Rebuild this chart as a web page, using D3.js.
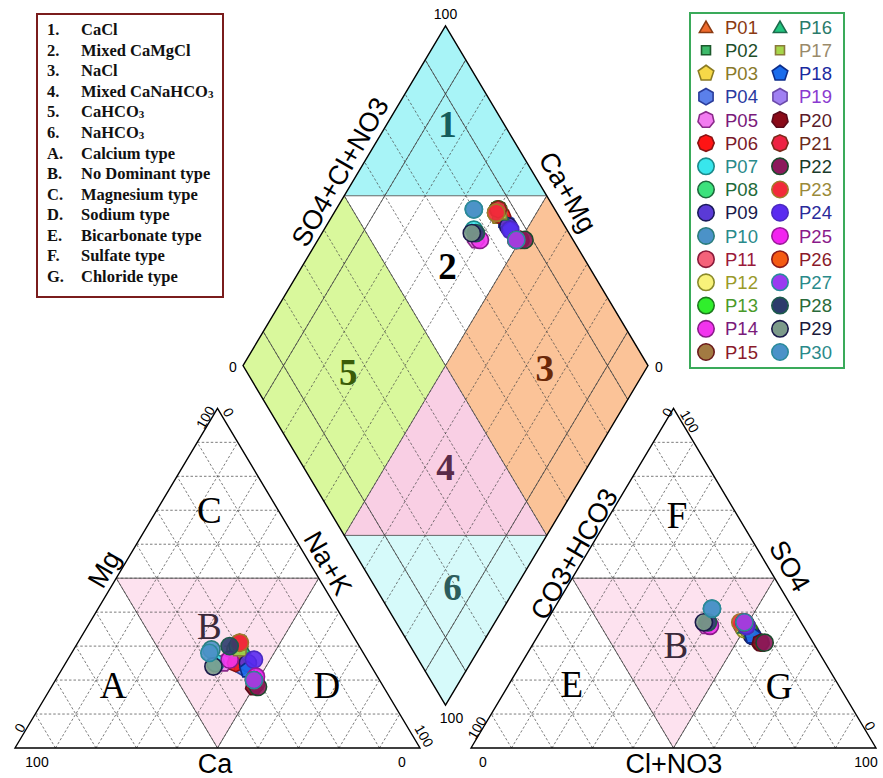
<!DOCTYPE html>
<html>
<head>
<meta charset="utf-8">
<script src="https://cdn.jsdelivr.net/npm/d3@7"></script>
<style>
  body { margin: 0; background: #fff; }
  .grid { fill: none; stroke: #444; stroke-width: 0.7; stroke-dasharray: 2.5,2; }
  .thin { fill: none; stroke: #444; stroke-width: 0.8; }
  .edge { fill: none; stroke: #000; stroke-width: 1.4; }
  .axis-title { font-family: "Liberation Sans", Arial, sans-serif; font-size: 27px; fill: #000; }
  .tick { font-family: "Liberation Sans", Arial, sans-serif; font-size: 14px; fill: #000; }
  .zone { font-family: "Liberation Serif", "Times New Roman", serif; font-weight: bold; font-size: 37px; }
  .type { font-family: "Liberation Serif", "Times New Roman", serif; font-size: 37px; }
</style>
</head>
<body>
<div class="piper"></div>
<script>
var width = 883, height = 778;

// samples
var samples = ["P01","P02","P03","P04","P05","P06","P07","P08","P09","P10",
               "P11","P12","P13","P14","P15","P16","P17","P18","P19","P20",
               "P21","P22","P23","P24","P25","P26","P27","P28","P29","P30"];
// cations (% meq)
var ca  = [30,29,30,32,36,33,38,31,30,37, 30,31,30,34,31,29,30,31,30,32, 29,31,29,28,30,31,31,32,39,38];
var mg  = [30,31,29,24,25,25,25,29,25,29, 30,29,30,26,19,30,29,23,21,18, 31,18,31,26,21,20,20,30,24,28];
var naK = [40,40,41,44,39,42,37,40,45,34, 40,40,40,40,50,41,41,46,49,50, 40,51,40,46,49,49,49,38,37,34];
// anions (% meq)
var hco3 = [14,14,15,14,24,14,23,14,14,20, 15,15,14,23,13,14,14,14,14,13, 14,12,15,14,14,14,14,23,24,20];
var so4  = [37,36,35,34,36,34,37,36,33,41, 36,35,35,36,31,36,35,33,37,31, 36,31,37,36,37,37,37,37,37,41];
var cl   = [49,50,50,52,40,52,40,50,53,39, 49,50,51,41,56,50,51,53,49,56, 50,57,48,50,49,49,49,40,39,39];

// marker styles
var shapes = [3,4,5,6,7,8,0,0,0,0, 0,0,0,0,0, 3,4,5,6,7,8,0,0,0,0, 0,0,0,0,0];
var fills = ["#ee6a2c","#3dba6a","#f6d848","#5b80ea","#f27cf0","#ff1414","#38e6ec","#3ce27c","#5a3ad6","#4b92c8",
             "#f4627a","#f8f27a","#30ee2c","#f234ee","#a27a42","#22c47e","#a6d64a","#1a6cec","#a080f2","#8a0a18",
             "#ee2242","#8c1a5c","#f22a3a","#5a2af0","#f222f0","#f45a12","#9a3af0","#2c3c6c","#7c9a8a","#4a92c8"];
var strokes = ["#8a3a12","#1c5a2c","#8a7a22","#2a3c9a","#8a2a8a","#8a1212","#1a8a8a","#1c6a3c","#1a1a5a","#2a7c7c",
               "#8a1a3a","#8a8a2a","#1c7a1c","#8a1a8a","#6a1a1a","#1c6a4c","#8a7a3c","#0c2c8a","#6a4aaa","#5a0a1a",
               "#7a2a1a","#1c4a2c","#a07a2a","#4a2ac0","#9a1a9a","#8a1a1a","#2a8a9a","#1c5a4a","#1a1a4a","#2a8a9a"];
var labelColors = ["#8b3a12","#1f4e2a","#8a7a2a","#2a3aa0","#7a1a7a","#7a1a2a","#2a8a8a","#1f6a3a","#1a1a4a","#2a8a8a",
                   "#9a1a3a","#9a9a2a","#4a9a2a","#7a1a7a","#8a1a2a","#2a7a6a","#9a8a6a","#1a2aa0","#8a3ad0","#5a1a2a",
                   "#6a2a1a","#1a3a2a","#9a8a3a","#2a2a9a","#8a1a8a","#8a1a2a","#2a8a8a","#2a6a3a","#1a1a3a","#2a8a8a"];

// water type legend
var typeKeys = ["1.","2.","3.","4.","5.","6.","A.","B.","C.","D.","E.","F.","G."];
var typeNames = ["CaCl","Mixed CaMgCl","NaCl","Mixed CaNaHCO|3","CaHCO|3","NaHCO|3","Calcium type",
                 "No Dominant type","Magnesium type","Sodium type","Bicarbonate type","Sulfate type","Chloride type"];

var tickValues = [0, 100];

// geometry in units: triangle side 100, gap between triangles
var gap = 12.6, H = 86.6;

var x = d3.scaleLinear().domain([0, 212.6]).range([15, 876]);
var y = d3.scaleLinear().domain([0, 184.1]).range([748, 26]);

function catXY(c, m, n) { return [x(n + m / 2), y(m * H / 100)]; }
function anXY(h, s, c) { return [x(100 + gap + c + s / 2), y(s * H / 100)]; }
function diaXY(cm, sc) {
  return [x(100 + gap / 2 + 0.5 * (sc - cm)), y(gap * H / 100 + H / 100 * (cm + sc))];
}

var svg = d3.select(".piper").append("svg")
  .attr("width", width)
  .attr("height", height);

var line = d3.line();

function poly(pts, fill) {
  svg.append("path").attr("d", line(pts) + "Z").attr("fill", fill);
}

// ----- fills -----
poly([diaXY(100,100), diaXY(100,50), diaXY(50,100)], "#a8f4f7");
poly([diaXY(100,50), diaXY(50,100), diaXY(50,50)], "#ffffff");
poly([diaXY(100,0), diaXY(100,50), diaXY(50,50), diaXY(50,0)], "#d9f89c");
poly([diaXY(50,100), diaXY(0,100), diaXY(0,50), diaXY(50,50)], "#fbc398");
poly([diaXY(50,50), diaXY(50,0), diaXY(0,50)], "#f9cfe4");
poly([diaXY(50,0), diaXY(0,0), diaXY(0,50)], "#d6fafa");

poly([catXY(50,50,0), catXY(0,50,50), catXY(50,0,50)], "#fde2ef");
poly([anXY(50,50,0), anXY(0,50,50), anXY(50,0,50)], "#fde2ef");

// ----- dashed grids -----
var steps = d3.range(10, 100, 10);
steps.forEach(function (i) {
  svg.append("path").attr("class", "grid").attr("d", line([catXY(100 - i, i, 0), catXY(0, i, 100 - i)]));
  svg.append("path").attr("class", "grid").attr("d", line([catXY(100 - i, 0, i), catXY(0, 100 - i, i)]));
  svg.append("path").attr("class", "grid").attr("d", line([catXY(i, 0, 100 - i), catXY(i, 100 - i, 0)]));
  svg.append("path").attr("class", "grid").attr("d", line([anXY(100 - i, i, 0), anXY(0, i, 100 - i)]));
  svg.append("path").attr("class", "grid").attr("d", line([anXY(100 - i, 0, i), anXY(0, 100 - i, i)]));
  svg.append("path").attr("class", "grid").attr("d", line([anXY(i, 0, 100 - i), anXY(i, 100 - i, 0)]));
  svg.append("path").attr("class", "grid").attr("d", line([diaXY(i, 0), diaXY(i, 100)]));
  svg.append("path").attr("class", "grid").attr("d", line([diaXY(0, i), diaXY(100, i)]));
});
// thin solid lines in the diamond
[10, 90].forEach(function (i) {
  svg.append("path").attr("class", "thin").attr("d", line([diaXY(i, 0), diaXY(i, 100)]));
  svg.append("path").attr("class", "thin").attr("d", line([diaXY(0, i), diaXY(100, i)]));
});

// ----- region boundaries -----
svg.append("path").attr("class", "thin").attr("d", line([diaXY(50, 0), diaXY(50, 100)]));
svg.append("path").attr("class", "thin").attr("d", line([diaXY(0, 50), diaXY(100, 50)]));
svg.append("path").attr("class", "thin").attr("d", line([diaXY(100, 50), diaXY(50, 100)]));
svg.append("path").attr("class", "thin").attr("d", line([diaXY(50, 0), diaXY(0, 50)]));
svg.append("path").attr("class", "thin").attr("d", line([catXY(50,50,0), catXY(0,50,50), catXY(50,0,50)]) + "Z");
svg.append("path").attr("class", "thin").attr("d", line([anXY(50,50,0), anXY(0,50,50), anXY(50,0,50)]) + "Z");

// ----- outlines -----
svg.append("path").attr("class", "edge").attr("d", line([catXY(100,0,0), catXY(0,100,0), catXY(0,0,100)]) + "Z");
svg.append("path").attr("class", "edge").attr("d", line([anXY(100,0,0), anXY(0,100,0), anXY(0,0,100)]) + "Z");
svg.append("path").attr("class", "edge").attr("d", line([diaXY(100,0), diaXY(100,100), diaXY(0,100), diaXY(0,0)]) + "Z");

// ----- zone labels -----
var zones = [
  {t: "1", p: diaXY(85, 86), c: "#155c5c"},
  {t: "2", p: diaXY(64, 65), c: "#000"},
  {t: "5", p: diaXY(73, 25), c: "#3a5c08"},
  {t: "3", p: diaXY(25, 74), c: "#6a2808"},
  {t: "4", p: diaXY(35, 35), c: "#5a2c4a"},
  {t: "6", p: diaXY(15.5, 19), c: "#2c5c5c"}
];
zones.forEach(function (z) {
  svg.append("text").attr("class", "zone").attr("x", z.p[0]).attr("y", z.p[1])
    .attr("dy", "0.33em").attr("text-anchor", "middle").attr("fill", z.c).text(z.t);
});
var types = [
  {t: "C", p: catXY(17, 70, 13), c: "#000"},
  {t: "B", p: catXY(34, 36, 30), c: "#3a2a3a"},
  {t: "A", p: catXY(66.5, 18.6, 14.9), c: "#000"},
  {t: "D", p: catXY(13.7, 18.6, 67.7), c: "#000"},
  {t: "F", p: anXY(14.8, 68.6, 16.6), c: "#000"},
  {t: "B", p: anXY(34.3, 30.3, 35.4), c: "#3a2a3a"},
  {t: "E", p: anXY(65.7, 18.8, 15.5), c: "#000"},
  {t: "G", p: anXY(14.8, 18.3, 66.9), c: "#000"}
];
types.forEach(function (z) {
  svg.append("text").attr("class", "type").attr("x", z.p[0]).attr("y", z.p[1])
    .attr("dy", "0.35em").attr("text-anchor", "middle").attr("fill", z.c).text(z.t);
});

// ----- axis titles -----
function rotText(cls, txt, p, ang) {
  svg.append("text").attr("class", cls)
    .attr("transform", "translate(" + p[0] + "," + p[1] + ") rotate(" + ang + ")")
    .attr("text-anchor", "middle").attr("dy", "0.35em").text(txt);
}
rotText("axis-title", "Mg", [104, 569], -60);
rotText("axis-title", "Na+K", [328, 563], 60);
rotText("axis-title", "Ca", [215, 764], 0);
rotText("axis-title", "CO3+HCO3", [574, 554], -60);
rotText("axis-title", "SO4", [790, 566], 60);
rotText("axis-title", "Cl+NO3", [674, 764], 0);
rotText("axis-title", "SO4+Cl+NO3", [340, 172], -60);
rotText("axis-title", "Ca+Mg", [568, 192], 60);

// ----- tick labels -----
var dTop = diaXY(100, 100), dLeft = diaXY(100, 0), dRight = diaXY(0, 100), dBottom = diaXY(0, 0);
rotText("tick", tickValues[1], [dTop[0], dTop[1] - 12], 0);
rotText("tick", tickValues[0], [dLeft[0] - 10, dLeft[1] + 2], 0);
rotText("tick", tickValues[0], [dRight[0] + 11, dRight[1] + 2], 0);
rotText("tick", tickValues[1], [dBottom[0] + 6, dBottom[1] + 13], 0);

var c0 = catXY(100,0,0), c1 = catXY(0,100,0), c2 = catXY(0,0,100);
rotText("tick", tickValues[1], [c0[0] + 22, c0[1] + 14], 0);
rotText("tick", tickValues[0], [c2[0] - 18, c2[1] + 14], 0);
rotText("tick", tickValues[0], [c0[0] + 5, c0[1] - 20], -60);
rotText("tick", tickValues[1], [c2[0] + 4, c2[1] - 12], 60);
rotText("tick", tickValues[1], [c1[0] - 12, c1[1] + 9], -60);
rotText("tick", tickValues[0], [c1[0] + 11, c1[1] + 4], 60);

var a0 = anXY(100,0,0), a1 = anXY(0,100,0), a2 = anXY(0,0,100);
rotText("tick", tickValues[0], [a0[0] + 12, a0[1] + 14], 0);
rotText("tick", tickValues[1], [a2[0] - 10, a2[1] + 14], 0);
rotText("tick", tickValues[1], [a0[0] + 6, a0[1] - 20], -60);
rotText("tick", tickValues[0], [a2[0] - 6, a2[1] - 22], 60);
rotText("tick", tickValues[0], [a1[0] - 6, a1[1] + 4], -60);
rotText("tick", tickValues[1], [a1[0] + 16, a1[1] + 13], 60);

// ----- markers -----
function markerPath(n, r) {
  if (n === 0) return d3.symbol(d3.symbolCircle, Math.PI * r * r)();
  if (n === 4) return d3.symbol(d3.symbolSquare, (r * 1.45) * (r * 1.45))();
  var pts = d3.range(n).map(function (k) {
    var a = -Math.PI / 2 + k * 2 * Math.PI / n;
    var rr = n === 3 ? r * 1.15 : r;
    return [rr * Math.cos(a), rr * Math.sin(a) + (n === 3 ? r * 0.25 : 0)];
  });
  return line(pts) + "Z";
}

var pts = samples.map(function (s, i) {
  return {
    i: i,
    cat: catXY(ca[i], mg[i], naK[i]),
    an: anXY(hco3[i], so4[i], cl[i]),
    dia: diaXY(ca[i] + mg[i], so4[i] + cl[i])
  };
});

["cat", "an", "dia"].forEach(function (key) {
  svg.append("g").selectAll("path")
    .data(pts)
    .join("path")
    .attr("transform", function (d) { return "translate(" + d[key][0] + "," + d[key][1] + ")"; })
    .attr("d", function (d) { return markerPath(shapes[d.i], 8.6); })
    .attr("fill", function (d) { return fills[d.i]; })
    .attr("fill-opacity", 0.9)
    .attr("stroke", function (d) { return strokes[d.i]; })
    .attr("stroke-width", 1.6);
});

// ----- sample legend -----
var leg = svg.append("g");
leg.append("rect").attr("x", 690).attr("y", 13).attr("width", 154).attr("height", 355)
  .attr("fill", "#fff").attr("stroke", "#3aaa5a").attr("stroke-width", 2);
var rowY = d3.scaleLinear().domain([0, 14]).range([27, 352]);
samples.forEach(function (s, i) {
  var col = i < 15 ? 0 : 1, row = i % 15;
  var mx = col === 0 ? 706 : 780;
  var sz = shapes[i] === 4 ? 6.2 : shapes[i] === 3 ? 6.6 : 8.2;
  leg.append("path")
    .attr("transform", "translate(" + mx + "," + rowY(row) + ")")
    .attr("d", markerPath(shapes[i], sz))
    .attr("fill", fills[i]).attr("stroke", strokes[i]).attr("stroke-width", 1.6);
  leg.append("text")
    .attr("x", mx + 19).attr("y", rowY(row)).attr("dy", "0.36em")
    .style("font-family", "'Liberation Sans', Arial, sans-serif").style("font-size", "18.5px")
    .attr("fill", labelColors[i]).text(s);
});

// ----- water type legend -----
var tl = svg.append("g");
tl.append("rect").attr("x", 37).attr("y", 14).attr("width", 186).attr("height", 283)
  .attr("fill", "#fff").attr("stroke", "#7a1c1c").attr("stroke-width", 2);
var typeY = d3.scaleLinear().domain([0, 12]).range([35, 282]);
typeKeys.forEach(function (k, i) {
  var g = tl.append("text").attr("y", typeY(i))
    .style("font-family", "'Liberation Serif', 'Times New Roman', serif")
    .style("font-weight", "bold").style("font-size", "16.5px").attr("fill", "#111");
  g.append("tspan").attr("x", 47).text(k);
  var parts = typeNames[i].split("|");
  g.append("tspan").attr("x", 81).text(parts[0]);
  if (parts[1]) g.append("tspan").style("font-size", "11px").attr("dy", 1).text(parts[1]);
});
</script>
</body>
</html>
